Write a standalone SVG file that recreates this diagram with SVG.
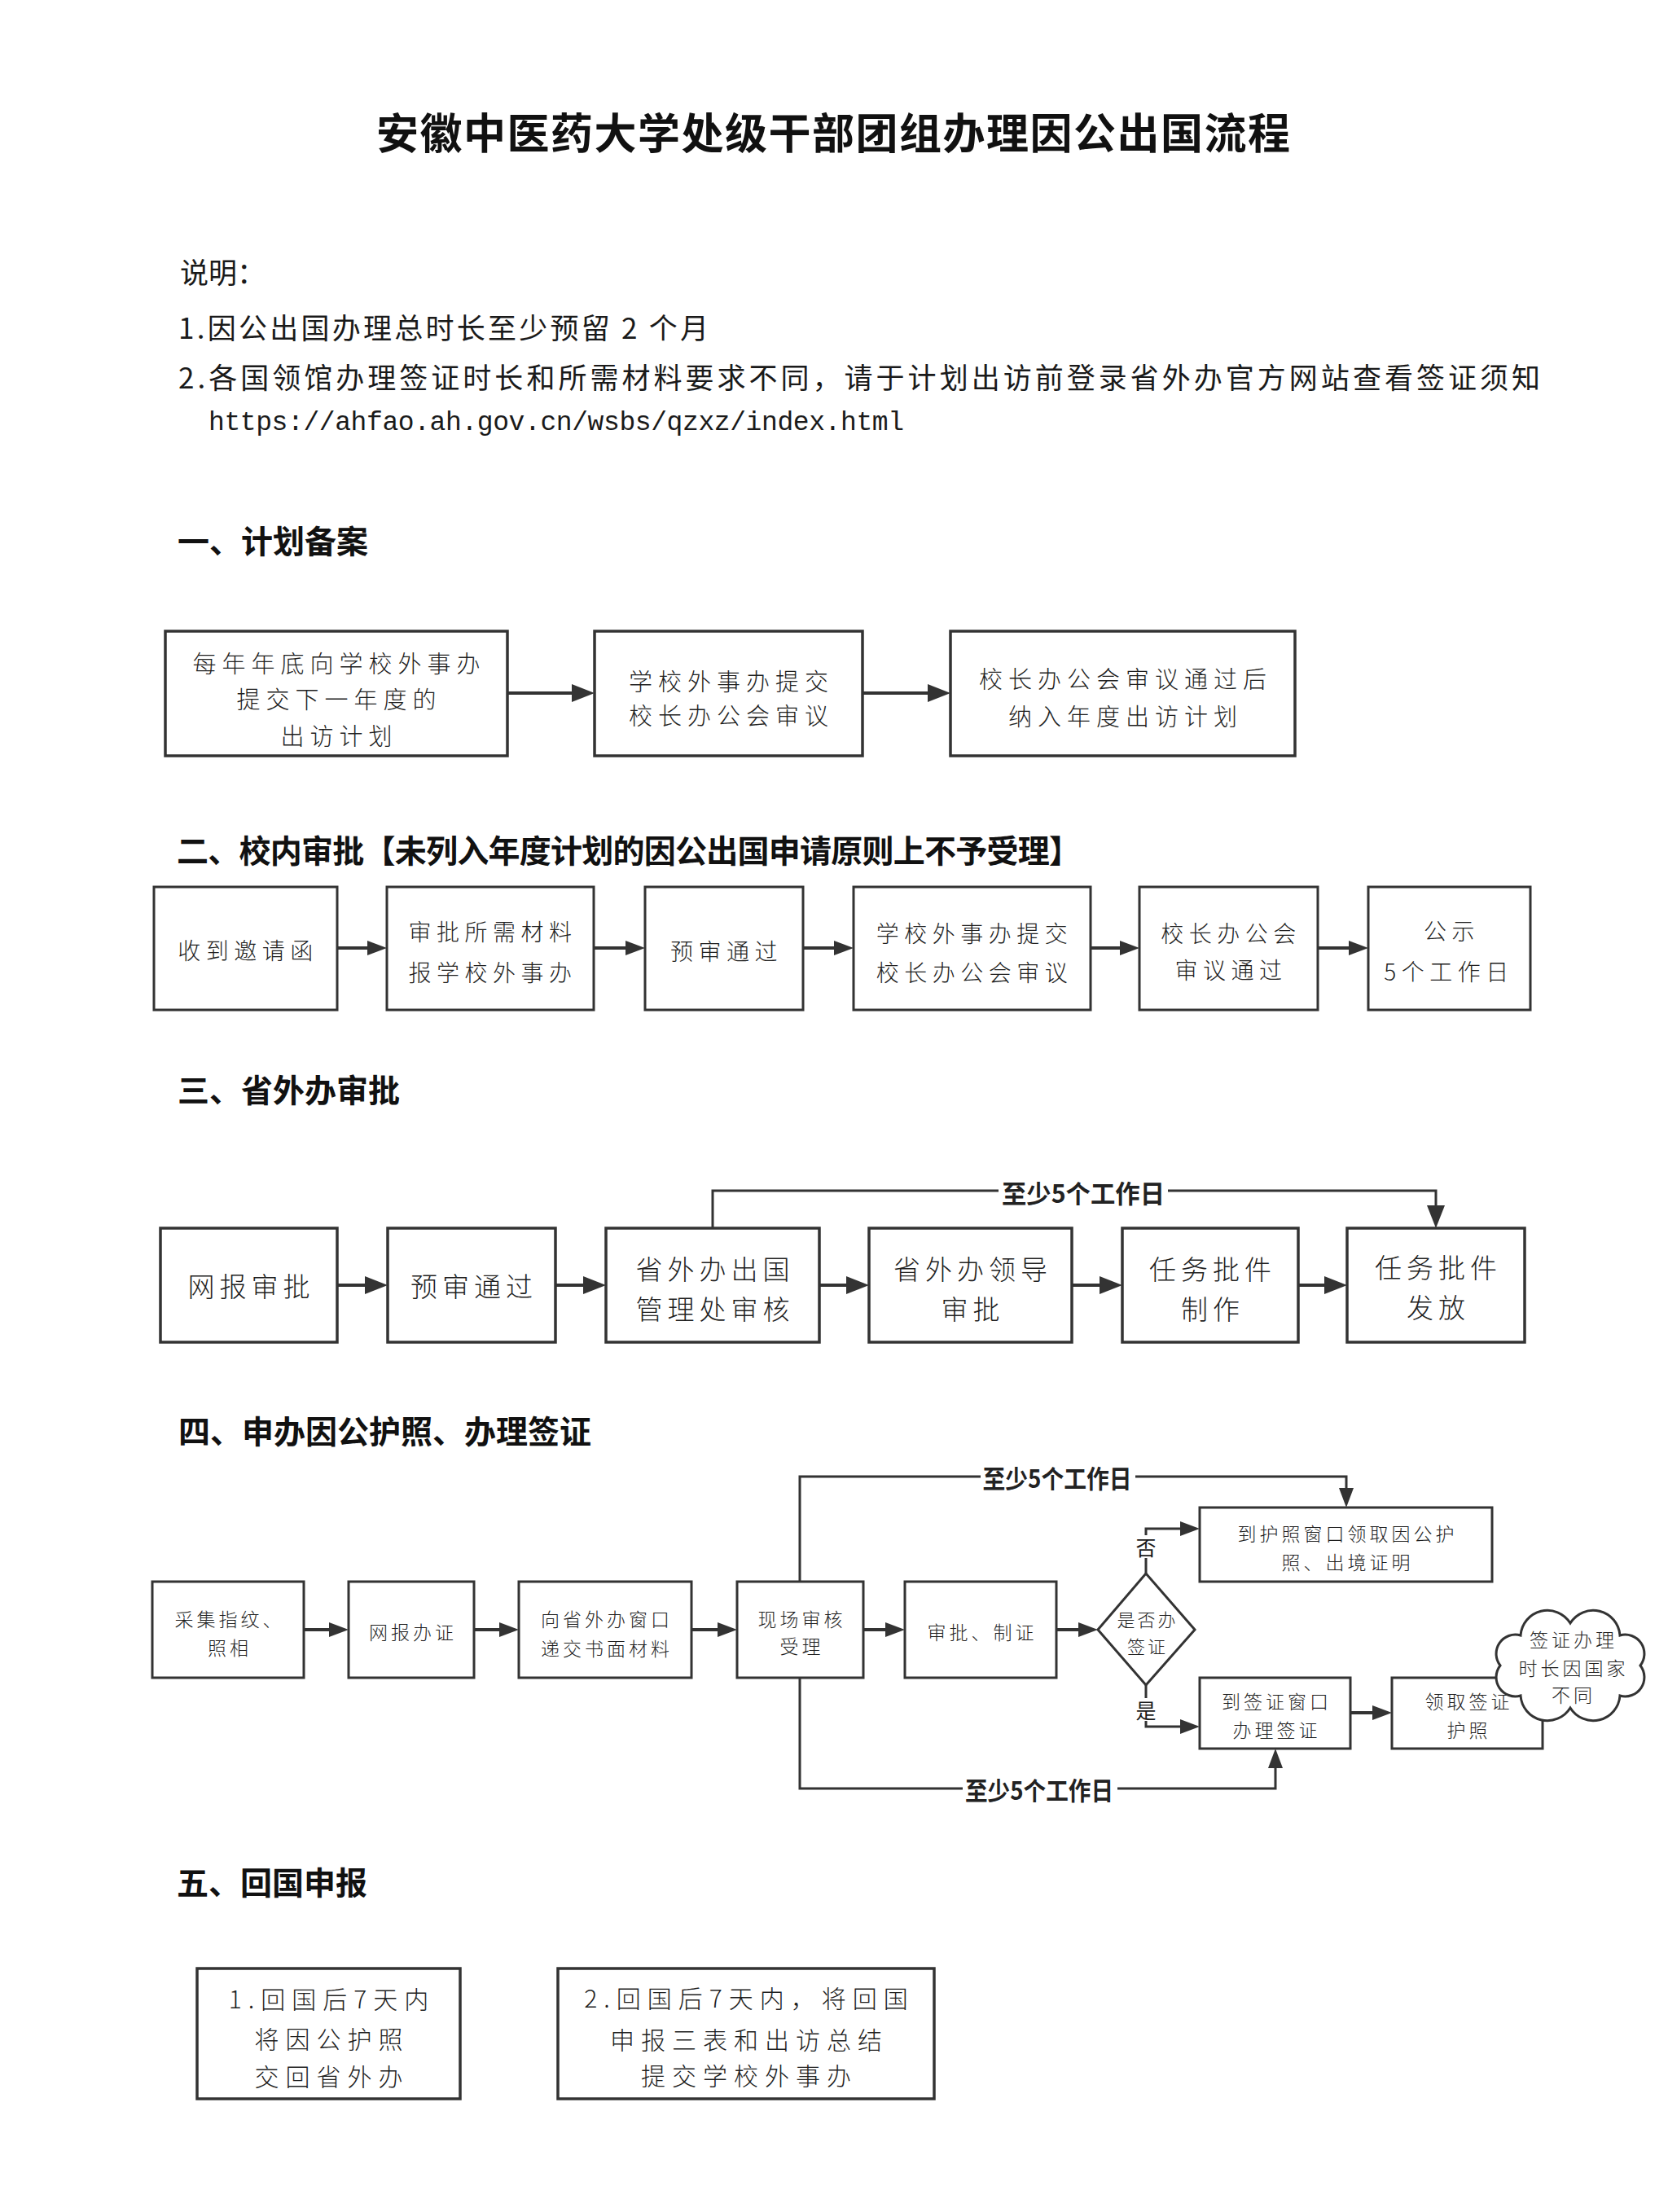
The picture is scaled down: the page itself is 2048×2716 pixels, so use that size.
<svg xmlns="http://www.w3.org/2000/svg" width="2048" height="2716" viewBox="0 0 2048 2716">
<style>
text{font-family:"Noto Sans CJK SC","Noto Sans",sans-serif;fill:#1a1a1a;dominant-baseline:central}
.box{fill:#fff;stroke:#333;stroke-width:3}
.bt{stroke-width:3.5}
.ln{fill:none;stroke:#333;stroke-width:4}
.cn{fill:none;stroke:#333;stroke-width:3}
.title{font-size:52px;font-weight:700;text-anchor:middle;fill:#111}
.note{font-size:35px;font-weight:400}
.url{font-family:"Liberation Mono",monospace;font-size:33px}
.h{font-size:39px;font-weight:700;fill:#111}
.c{text-anchor:middle;fill:#1f1f1f;font-weight:300}
.s1{font-size:29px;letter-spacing:7px}
.s2{font-size:28px;letter-spacing:6.5px}
.s3{font-size:33px;letter-spacing:6px}
.s4{font-size:23px;letter-spacing:4px}
.s5{font-size:30px;letter-spacing:8px}
.yn{font-size:25px}
.lbl{font-size:31px;font-weight:700;text-anchor:middle;fill:#222}
.wb{fill:#fff}
</style>
<defs>
<marker id="arrB" markerWidth="28" markerHeight="22" refX="18" refY="11" orient="auto" markerUnits="userSpaceOnUse"><path d="M0,0 L28,11 L0,22 Z" fill="#333"/></marker>
<marker id="arrS" markerWidth="24" markerHeight="18" refX="14" refY="9" orient="auto" markerUnits="userSpaceOnUse"><path d="M0,0 L24,9 L0,18 Z" fill="#333"/></marker>
</defs>
<rect x="0" y="0" width="2048" height="2716" fill="#fff"/>

<g id="title">
<text class="title" x="1023" y="160" textLength="1122" lengthAdjust="spacing">安徽中医药大学处级干部团组办理因公出国流程</text>
</g>
<g id="notes">
<text class="note" x="221" y="332">说明：</text>
<text class="note" x="219" y="400" textLength="651" lengthAdjust="spacing">1.因公出国办理总时长至少预留 2 个月</text>
<text class="note" x="219" y="461" textLength="1672" lengthAdjust="spacing">2.各国领馆办理签证时长和所需材料要求不同，请于计划出访前登录省外办官方网站查看签证须知</text>
<text class="url" x="256" y="519" textLength="854" lengthAdjust="spacing">https://ahfao.ah.gov.cn/wsbs/qzxz/index.html</text>
</g>
<g id="headings">
<text class="h" x="218" y="662">一、计划备案</text>
<text class="h" x="217" y="1042" textLength="1110" lengthAdjust="spacing">二、校内审批【未列入年度计划的因公出国申请原则上不予受理】</text>
<text class="h" x="218" y="1336">三、省外办审批</text>
<text class="h" x="219" y="1755">四、申办因公护照、办理签证</text>
<text class="h" x="217" y="2309">五、回国申报</text>
</g>

<g id="connectors">
<line class="ln" x1="623" y1="851" x2="720" y2="851" marker-end="url(#arrB)"/>
<line class="ln" x1="1059" y1="851" x2="1157" y2="851" marker-end="url(#arrB)"/>

<line class="ln" x1="414" y1="1164" x2="465" y2="1164" marker-end="url(#arrS)"/>
<line class="ln" x1="729" y1="1164" x2="782" y2="1164" marker-end="url(#arrS)"/>
<line class="ln" x1="986" y1="1164" x2="1038" y2="1164" marker-end="url(#arrS)"/>
<line class="ln" x1="1339" y1="1164" x2="1389" y2="1164" marker-end="url(#arrS)"/>
<line class="ln" x1="1618" y1="1164" x2="1670" y2="1164" marker-end="url(#arrS)"/>

<line class="ln" x1="414" y1="1578" x2="466" y2="1578" marker-end="url(#arrB)"/>
<line class="ln" x1="682" y1="1578" x2="734" y2="1578" marker-end="url(#arrB)"/>
<line class="ln" x1="1006" y1="1578" x2="1057" y2="1578" marker-end="url(#arrB)"/>
<line class="ln" x1="1316" y1="1578" x2="1368" y2="1578" marker-end="url(#arrB)"/>
<line class="ln" x1="1594" y1="1578" x2="1644" y2="1578" marker-end="url(#arrB)"/>
<path class="cn" d="M875,1508 V1462 H1763 V1498" marker-end="url(#arrB)"/>
<rect class="wb" x="1226" y="1446" width="208" height="34"/>
<text class="lbl" x="1330" y="1463" textLength="200" lengthAdjust="spacingAndGlyphs">至少5个工作日</text>

<line class="ln" x1="373" y1="2001" x2="418" y2="2001" marker-end="url(#arrS)"/>
<line class="ln" x1="582" y1="2001" x2="627" y2="2001" marker-end="url(#arrS)"/>
<line class="ln" x1="849" y1="2001" x2="895" y2="2001" marker-end="url(#arrS)"/>
<line class="ln" x1="1060" y1="2001" x2="1101" y2="2001" marker-end="url(#arrS)"/>
<line class="ln" x1="1297" y1="2001" x2="1338" y2="2001" marker-end="url(#arrS)"/>
<line class="ln" x1="1658" y1="2103" x2="1699" y2="2103" marker-end="url(#arrS)"/>
<path class="cn" d="M1407,1932 V1877 H1463" marker-end="url(#arrS)"/>
<rect class="wb" x="1392" y="1885" width="30" height="28"/>
<text class="yn" x="1407" y="1899" text-anchor="middle">否</text>
<path class="cn" d="M1407,2069 V2120 H1463" marker-end="url(#arrS)"/>
<rect class="wb" x="1392" y="2085" width="30" height="28"/>
<text class="yn" x="1407" y="2099" text-anchor="middle">是</text>
<path class="cn" d="M982,1942 V1813 H1653 V1841" marker-end="url(#arrS)"/>
<rect class="wb" x="1204" y="1796" width="190" height="34"/>
<text class="lbl" x="1298" y="1813" textLength="183" lengthAdjust="spacingAndGlyphs">至少5个工作日</text>
<path class="cn" d="M982,2060 V2196 H1566 V2157" marker-end="url(#arrS)"/>
<rect class="wb" x="1182" y="2179" width="190" height="34"/>
<text class="lbl" x="1276" y="2196" textLength="182" lengthAdjust="spacingAndGlyphs">至少5个工作日</text>
</g>

<g id="n1a"><rect class="box bt" x="203" y="775" width="420" height="153"/>
<text class="c s1" x="416.5" y="813">每年年底向学校外事办</text>
<text class="c s1" x="416.5" y="857">提交下一年度的</text>
<text class="c s1" x="416.5" y="902">出访计划</text></g>
<g id="n1b"><rect class="box bt" x="730" y="775" width="329" height="153"/>
<text class="c s1" x="898" y="835">学校外事办提交</text>
<text class="c s1" x="898" y="877">校长办公会审议</text></g>
<g id="n1c"><rect class="box bt" x="1167" y="775" width="423" height="153"/>
<text class="c s1" x="1382" y="832">校长办公会审议通过后</text>
<text class="c s1" x="1382" y="878">纳入年度出访计划</text></g>

<g id="n2a"><rect class="box" x="189" y="1089" width="225" height="151"/>
<text class="c s2" x="304.5" y="1166">收到邀请函</text></g>
<g id="n2b"><rect class="box" x="475" y="1089" width="254" height="151"/>
<text class="c s2" x="605" y="1143">审批所需材料</text>
<text class="c s2" x="605" y="1193">报学校外事办</text></g>
<g id="n2c"><rect class="box" x="792" y="1089" width="194" height="151"/>
<text class="c s2" x="892" y="1167">预审通过</text></g>
<g id="n2d"><rect class="box" x="1048" y="1089" width="291" height="151"/>
<text class="c s2" x="1196.5" y="1145">学校外事办提交</text>
<text class="c s2" x="1196.5" y="1193">校长办公会审议</text></g>
<g id="n2e"><rect class="box" x="1399" y="1089" width="219" height="151"/>
<text class="c s2" x="1511.5" y="1145">校长办公会</text>
<text class="c s2" x="1511.5" y="1190">审议通过</text></g>
<g id="n2f"><rect class="box" x="1680" y="1089" width="199" height="151"/>
<text class="c s2" x="1782.5" y="1142">公示</text>
<text class="c s2" x="1779" y="1192">5个工作日</text></g>

<g id="n3a"><rect class="box bt" x="197" y="1508" width="217" height="140"/>
<text class="c s3" x="308.5" y="1578">网报审批</text></g>
<g id="n3b"><rect class="box bt" x="476" y="1508" width="206" height="140"/>
<text class="c s3" x="582" y="1578">预审通过</text></g>
<g id="n3c"><rect class="box bt" x="744" y="1508" width="262" height="140"/>
<text class="c s3" x="878" y="1557">省外办出国</text>
<text class="c s3" x="878" y="1606">管理处审核</text></g>
<g id="n3d"><rect class="box bt" x="1067" y="1508" width="249" height="140"/>
<text class="c s3" x="1194.5" y="1557">省外办领导</text>
<text class="c s3" x="1194.5" y="1606">审批</text></g>
<g id="n3e"><rect class="box bt" x="1378" y="1508" width="216" height="140"/>
<text class="c s3" x="1489" y="1557">任务批件</text>
<text class="c s3" x="1489" y="1606">制作</text></g>
<g id="n3f"><rect class="box bt" x="1654" y="1508" width="218" height="140"/>
<text class="c s3" x="1766" y="1555">任务批件</text>
<text class="c s3" x="1766" y="1604">发放</text></g>

<g id="n4a"><rect class="box" x="187" y="1942" width="186" height="118"/>
<text class="c s4" x="282" y="1987">采集指纹、</text>
<text class="c s4" x="282" y="2022">照相</text></g>
<g id="n4b"><rect class="box" x="428" y="1942" width="154" height="118"/>
<text class="c s4" x="507" y="2003">网报办证</text></g>
<g id="n4c"><rect class="box" x="637" y="1942" width="212" height="118"/>
<text class="c s4" x="745" y="1987">向省外办窗口</text>
<text class="c s4" x="745" y="2023">递交书面材料</text></g>
<g id="n4d"><rect class="box" x="905" y="1942" width="155" height="118"/>
<text class="c s4" x="984.5" y="1987">现场审核</text>
<text class="c s4" x="984.5" y="2020">受理</text></g>
<g id="n4e"><rect class="box" x="1111" y="1942" width="186" height="118"/>
<text class="c s4" x="1206" y="2003">审批、制证</text></g>
<g id="n4f"><path class="box" d="M1348,2001 L1407,1932 L1467,2001 L1407,2069 Z"/>
<text class="c s4" x="1409" y="1987" style="font-size:22px;letter-spacing:3px">是否办</text>
<text class="c s4" x="1409" y="2020" style="font-size:22px;letter-spacing:3px">签证</text></g>
<g id="n4g"><rect class="box" x="1473" y="1851" width="359" height="91"/>
<text class="c s4" x="1654.5" y="1882">到护照窗口领取因公护</text>
<text class="c s4" x="1654.5" y="1917">照、出境证明</text></g>
<g id="n4h"><rect class="box" x="1473" y="2060" width="185" height="87"/>
<text class="c s4" x="1567.5" y="2088">到签证窗口</text>
<text class="c s4" x="1567.5" y="2123">办理签证</text></g>
<g id="n4i"><rect class="box" x="1709" y="2060" width="185" height="87"/>
<text class="c s4" x="1803.5" y="2088">领取签证</text>
<text class="c s4" x="1803.5" y="2123">护照</text></g>
<g id="n4j"><path class="box" d="M2014,2045 A23.5,23.5 0 0 0 1989,2008 A33,33 0 0 0 1928,1993 A33,33 0 0 0 1867,2008 A23.5,23.5 0 0 0 1842,2045 A23.5,23.5 0 0 0 1867,2082 A33,33 0 0 0 1928,2097 A33,33 0 0 0 1989,2082 A23.5,23.5 0 0 0 2014,2045 Z"/>
<text class="c s4" x="1932" y="2012">签证办理</text>
<text class="c s4" x="1932" y="2047">时长因国家</text>
<text class="c s4" x="1932" y="2080">不同</text></g>

<g id="n5a"><rect class="box bt" x="242" y="2417" width="323" height="160"/>
<text class="c s5" x="407.5" y="2453">1.回国后7天内</text>
<text class="c s5" x="407.5" y="2502">将因公护照</text>
<text class="c s5" x="407.5" y="2548">交回省外办</text></g>
<g id="n5b"><rect class="box bt" x="685" y="2417" width="462" height="160"/>
<text class="c s5" x="920" y="2452">2.回国后7天内，将回国</text>
<text class="c s5" x="920" y="2503">申报三表和出访总结</text>
<text class="c s5" x="920" y="2547">提交学校外事办</text></g>
</svg>
